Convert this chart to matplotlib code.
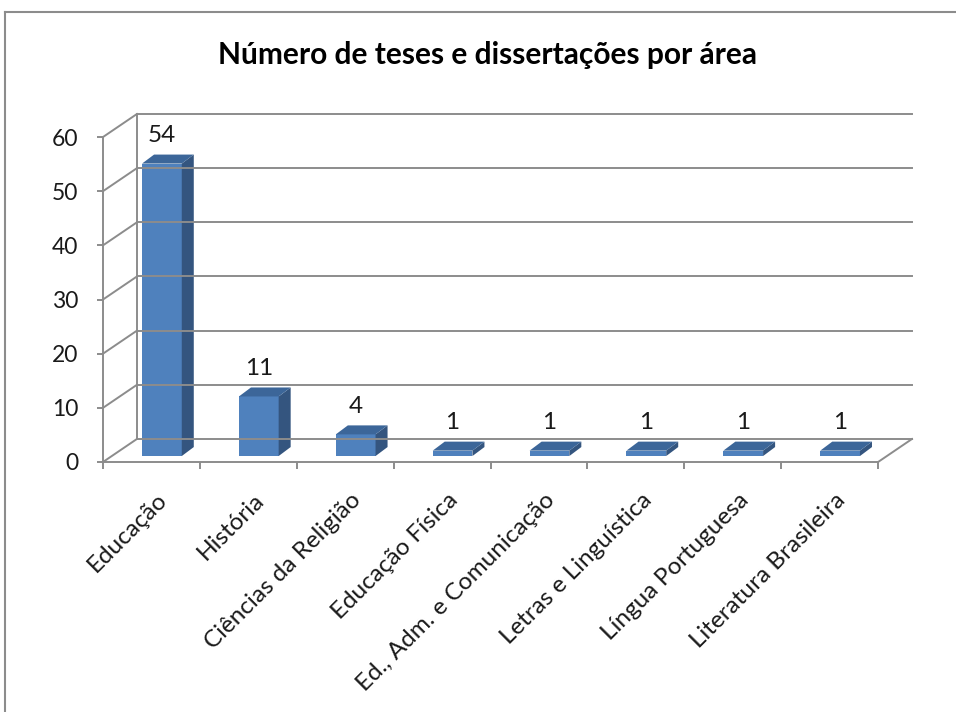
import matplotlib
matplotlib.use("Agg")
import matplotlib.pyplot as plt
from matplotlib.patches import Rectangle, Polygon
from matplotlib.lines import Line2D
from matplotlib.transforms import ScaledTranslation

plt.rcParams['font.family'] = ['Lato', 'DejaVu Sans']

title = "Número de teses e dissertações por área"
categories = ["Educação", "História", "Ciências da Religião", "Educação Física",
              "Ed., Adm. e Comunicação", "Letras e Linguística",
              "Língua Portuguesa", "Literatura Brasileira"]
values = [54, 11, 4, 1, 1, 1, 1, 1]
yticks = [0, 10, 20, 30, 40, 50, 60]

# 3d look (in data units)
DX, DY = 0.35, 4.25          # depth of the back wall
W = 0.41                     # bar width
SX, SY = 0.108, 1.1          # bar front face shift from the front floor
BDX, BDY = 0.124, 1.66       # bar depth

grid_c = '#8c8c8c'
face_c = '#4f81bd'
side_c = '#34557f'
top_c = '#3c6699'
txt_c = '#1a1a1a'

fig = plt.figure(figsize=(9.56, 7.12), dpi=100)
n = len(categories)
ax = fig.add_axes([103 / 956, 1 - 462 / 712, (912 - 103) / 956, (462 - 114) / 712])
ax.set_xlim(0, n + DX)
ax.set_ylim(0, yticks[-1] + DY)

# walls and floor
for t in yticks:
    ax.plot([0, DX], [t, t + DY], c=grid_c, lw=1.4, clip_on=False)
    ax.plot([DX, n + DX], [t + DY, t + DY], c=grid_c, lw=1.4, clip_on=False)
ax.plot([DX, DX], [DY, yticks[-1] + DY], c=grid_c, lw=1.4)
ax.plot([n, n + DX], [0, DY], c=grid_c, lw=1.4, clip_on=False)

# bars
for i, v in enumerate(values):
    x0 = i + 0.5 - W / 2 + SX
    ax.add_patch(Rectangle((x0, SY), W, v, fc=face_c, ec='none'))
    ax.add_patch(Polygon([(x0 + W, SY), (x0 + W + BDX, SY + BDY),
                          (x0 + W + BDX, SY + BDY + v), (x0 + W, SY + v)],
                         fc=side_c, ec='none'))
    ax.add_patch(Polygon([(x0, SY + v), (x0 + W, SY + v),
                          (x0 + W + BDX, SY + v + BDY), (x0 + BDX, SY + v + BDY)],
                         fc=top_c, ec='none'))
    ax.annotate(str(v), (x0 + W / 2, SY + v + BDY), xytext=(0, 13.5),
                textcoords='offset points', ha='center', va='center',
                fontsize=17.5, color=txt_c)

# axes
for s in ['top', 'right']:
    ax.spines[s].set_visible(False)
ax.spines['left'].set_bounds(0, yticks[-1])
ax.spines['bottom'].set_bounds(0, n)
for s in ['left', 'bottom']:
    ax.spines[s].set_color(grid_c)
    ax.spines[s].set_linewidth(1.4)
ax.set_yticks(yticks)
ax.set_xticks(range(n + 1))
ax.set_xticklabels([])
ax.tick_params(axis='y', length=4.5, width=1.4, color=grid_c, pad=13.5,
               labelsize=16.5, labelcolor=txt_c)
ax.tick_params(axis='x', length=5, width=1.4, color=grid_c)

off = ScaledTranslation(5 / 100, -27 / 100, fig.dpi_scale_trans)
for i, lab in enumerate(categories):
    ax.text(i + 0.5, 0, lab, transform=ax.transData + off, rotation=45,
            rotation_mode='anchor', ha='right', va='top', fontsize=17.5,
            color=txt_c)

fig.text(488 / 956, 1 - 55 / 712, title, ha='center', va='center',
         fontsize=21.5, fontweight='bold', color='#000000')

# chart frame
fig.add_artist(Line2D([5 / 956, 5 / 956], [0, 1 - 12 / 712], color='#8c8c8c', lw=1.5))
fig.add_artist(Line2D([5 / 956, 1], [1 - 12 / 712, 1 - 12 / 712], color='#8c8c8c', lw=1.5))

fig.savefig('out.png', dpi=100)
